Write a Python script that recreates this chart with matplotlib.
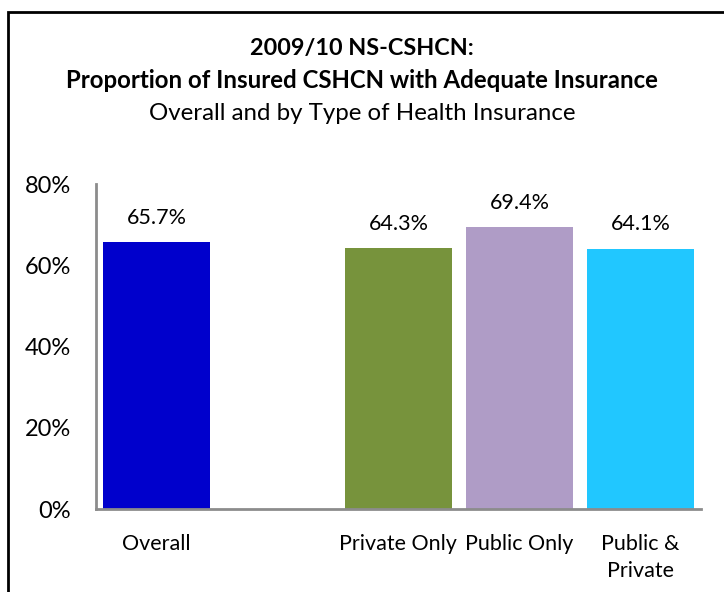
import matplotlib
matplotlib.use("Agg")
import matplotlib.pyplot as plt
from matplotlib.patches import Rectangle

plt.rcParams['font.family'] = ['Lato', 'DejaVu Sans']

# chart data
categories = ['Overall', '', 'Private Only', 'Public Only', 'Public &\nPrivate']
values = [65.7, None, 64.3, 69.4, 64.1]
colors = ['#0000CC', 'none', '#77933C', '#AF9CC6', '#21C7FF']
yticks = [0, 20, 40, 60, 80]

fig = plt.figure(figsize=(7.24, 5.92), dpi=100)
ax = fig.add_axes([0.1326, 0.140, 0.8354, 0.549])

# frame around the whole chart
fig.patches.append(Rectangle((8 / 724, -0.05), 1.0, 1.05 - 12 / 592,
                             transform=fig.transFigure, fill=False,
                             edgecolor='black', linewidth=2))

x = list(range(len(categories)))
for i, v in enumerate(values):
    if v is None:
        continue
    ax.bar(i, v, width=0.89, color=colors[i])
    ax.text(i, v + 3.5, f'{v:.1f}%', ha='center', va='bottom', fontsize=15.5)

ax.set_xlim(-0.5, len(categories) - 0.5)
ax.set_ylim(0, 80)
ax.set_yticks(yticks)
ax.set_yticklabels([f'{t}%' for t in yticks], fontsize=17)
ax.set_xticks(x)
ax.set_xticklabels(categories, fontsize=15.5, va='top', linespacing=1.45)
ax.tick_params(axis='both', length=0)
ax.tick_params(axis='y', pad=18)
ax.tick_params(axis='x', pad=18)

for s in ['top', 'right']:
    ax.spines[s].set_visible(False)
for s in ['left', 'bottom']:
    ax.spines[s].set_color('#8C8C8C')
    ax.spines[s].set_linewidth(2)

fig.text(0.5, 1 - 48 / 592, '2009/10 NS-CSHCN:', ha='center', va='center',
         fontsize=16.8, fontweight='bold')
fig.text(0.5, 1 - 81 / 592, 'Proportion of Insured CSHCN with Adequate Insurance',
         ha='center', va='center', fontsize=17.3, fontweight='bold')
fig.text(0.5, 1 - 113 / 592, 'Overall and by Type of Health Insurance',
         ha='center', va='center', fontsize=17.3)

fig.savefig('out.png', dpi=100)
